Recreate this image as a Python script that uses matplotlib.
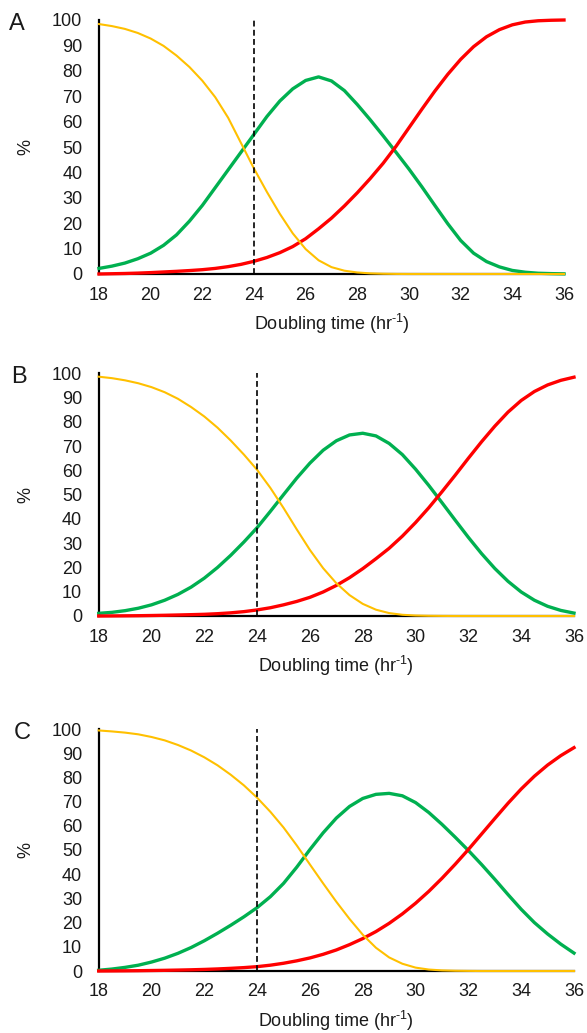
import matplotlib
matplotlib.use("Agg")
import matplotlib.pyplot as plt

plt.rcParams['font.family'] = ['Liberation Sans', 'DejaVu Sans']
plt.rcParams['mathtext.fontset'] = 'custom'
plt.rcParams['mathtext.rm'] = 'Liberation Sans'

# x values (doubling time), every 0.5 h from 18 to 36
x_vals = [18 + 0.5 * i for i in range(37)]

# Panel A
a_yellow = [98.4, 97.6, 96.5, 94.9, 92.7, 89.8, 86, 81.5, 76.1, 69.6, 61.5, 51.5, 41.5, 32.3, 23.7,
            16, 9.8, 5.4, 2.7, 1.3, 0.6, 0.25, 0.1, 0.03, 0, 0, 0, 0, 0, 0, 0, 0, 0, 0, 0, 0, 0]
a_green = [2.2, 3.1, 4.3, 6, 8.2, 11.3, 15.4, 20.8, 27, 34, 41, 48, 55, 62, 68.1, 72.9, 76.2, 77.6,
           76, 72.2, 66.7, 60.7, 54.4, 47.9, 41.3, 34.3, 27, 19.8, 13.2, 8.2, 4.9, 2.8, 1.4, 0.7,
           0.3, 0.15, 0.05]
a_red = [0, 0.1, 0.2, 0.35, 0.55, 0.8, 1.05, 1.35, 1.7, 2.2, 2.9, 3.8, 5, 6.5, 8.4, 10.8, 13.9, 17.8,
         22, 26.8, 32, 37.6, 43.6, 50.3, 57.6, 64.9, 72, 78.6, 84.5, 89.5, 93.4, 96.2, 98.1, 99.2,
         99.7, 99.9, 100]

# Panel B
b_yellow = [98.6, 98, 97.1, 95.9, 94.3, 92.2, 89.5, 86.1, 82.2, 77.6, 72.3, 66.5, 60.2, 52.8, 44.5,
            35.7, 27.2, 19.7, 13.5, 8.6, 5, 2.6, 1.2, 0.5, 0.2, 0.08, 0.03, 0, 0, 0, 0, 0, 0, 0, 0,
            0, 0]
b_green = [1.1, 1.5, 2.2, 3.2, 4.6, 6.5, 8.9, 11.9, 15.6, 20, 25, 30.5, 36.4, 43.1, 50, 56.8, 63,
           68.3, 72.2, 74.6, 75.3, 74.2, 71.1, 66.5, 60.5, 53.8, 46.7, 39.5, 32.4, 25.7, 19.6, 14.3,
           9.9, 6.5, 4, 2.3, 1.2]
b_red = [0, 0.03, 0.07, 0.12, 0.2, 0.3, 0.42, 0.55, 0.7, 0.95, 1.3, 1.8, 2.5, 3.4, 4.6, 6, 7.7, 9.9,
         12.6, 15.8, 19.5, 23.6, 27.9, 32.9, 38.5, 44.6, 51.2, 58, 65, 71.8, 78.2, 84, 88.8, 92.5,
         95.2, 97.1, 98.4]

# Panel C
c_yellow = [99.4, 99, 98.5, 97.8, 96.7, 95.3, 93.4, 91.1, 88.3, 85, 81.1, 76.7, 71.6, 65.8, 59.3,
            51.9, 44, 36.2, 28.6, 21.5, 15, 9.6, 5.6, 3, 1.4, 0.6, 0.25, 0.1, 0.04, 0, 0, 0, 0, 0,
            0, 0, 0]
c_green = [0.3, 0.8, 1.5, 2.4, 3.7, 5.3, 7.3, 9.7, 12.5, 15.6, 18.9, 22.4, 26.2, 30.7, 36.2, 42.9,
           50.2, 57.1, 63.2, 68, 71.3, 73, 73.4, 72.4, 69.6, 65.5, 60.6, 55.3, 49.8, 44, 37.9, 31.6,
           25.5, 20, 15.3, 11.1, 7.4]
c_red = [0, 0.03, 0.07, 0.12, 0.2, 0.28, 0.38, 0.5, 0.65, 0.85, 1.1, 1.4, 1.8, 2.4, 3.2, 4.2, 5.4,
         6.9, 8.7, 10.9, 13.4, 16.3, 19.7, 23.6, 28, 32.9, 38.3, 44.1, 50.2, 56.6, 63, 69.3, 75.2,
         80.5, 85.1, 89, 92.3]

panel_letters = ['A', 'B', 'C']
x_ticks = [18, 20, 22, 24, 26, 28, 30, 32, 34, 36]
y_ticks = [0, 10, 20, 30, 40, 50, 60, 70, 80, 90, 100]
cutoff = 24

YELLOW = '#FFC000'
GREEN = '#00B050'
RED = '#FF0000'
TXT = '#1a1a1a'

W, H = 587, 1033
fig = plt.figure(figsize=(W / 100, H / 100), dpi=100)

# axes boxes in pixels: left, right, top, bottom
boxes = [(99, 564, 20, 274), (98.7, 574, 373.3, 616), (98.7, 574, 729, 971)]
letter_pos = [(16.5, 24), (19, 377), (22, 733)]
series = [(a_yellow, a_green, a_red), (b_yellow, b_green, b_red), (c_yellow, c_green, c_red)]

for (l, r, t, b), letter, lp, (yy, gg, rr) in zip(boxes, panel_letters, letter_pos, series):
    ax = fig.add_axes([l / W, 1 - b / H, (r - l) / W, (b - t) / H])
    ax.plot(x_vals, gg, color=GREEN, lw=2.4, clip_on=False, zorder=3, solid_joinstyle='round')
    ax.plot(x_vals, rr, color=RED, lw=2.4, clip_on=False, zorder=4, solid_joinstyle='round')
    ax.plot(x_vals, yy, color=YELLOW, lw=1.5, clip_on=False, zorder=5, solid_joinstyle='round')
    ax.plot([cutoff, cutoff], [0, 100], color='black', lw=1.2, ls=(0, (3.5, 2)), zorder=6,
            clip_on=False)
    ax.set_xlim(18, 36)
    ax.set_ylim(0, 100)
    ax.set_xticks(x_ticks)
    ax.set_yticks(y_ticks)
    ax.tick_params(length=0, labelsize=13, labelcolor=TXT)
    ax.tick_params(axis='x', pad=9)
    ax.tick_params(axis='y', pad=12)
    for s in ['top', 'right']:
        ax.spines[s].set_visible(False)
    for s in ['left', 'bottom']:
        ax.spines[s].set_linewidth(1.6)
        ax.spines[s].set_color('black')
        ax.spines[s].set_zorder(2)
    ax.set_xlabel(r'Doubling time (hr$^{\text{-1}}$)', fontsize=13, color=TXT, labelpad=6)
    ax.set_ylabel('%', fontsize=13, color=TXT)
    ax.yaxis.set_label_coords((34 - l) / (r - l), 0.5)
    fig.text(lp[0] / W, 1 - lp[1] / H, letter, fontsize=17, color=TXT, ha='center', va='center')

fig.savefig('out.png', dpi=100)
